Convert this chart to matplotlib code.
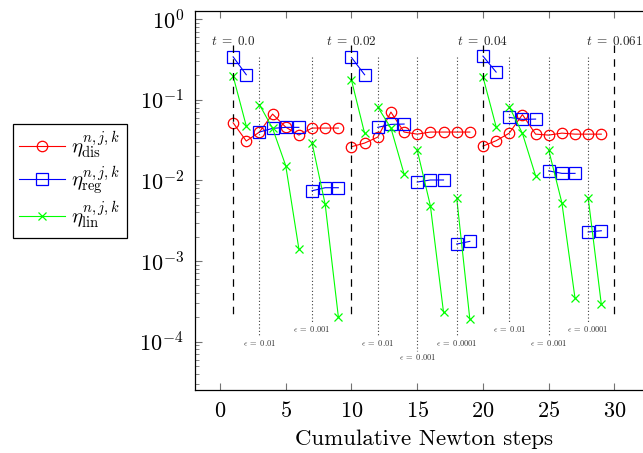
import matplotlib
matplotlib.use('Agg')
import matplotlib.pyplot as plt
import numpy as np

plt.rcParams['font.family'] = 'serif'
plt.rcParams['font.serif'] = ['cmr10']
plt.rcParams['mathtext.fontset'] = 'cm'
plt.rcParams['axes.formatter.use_mathtext'] = True

##########################################################################
# data
steps = list(range(1, 30))

eta_dis = [0.0517, 0.0307, 0.0397, 0.0663, 0.0457, 0.0364, 0.0445, 0.0445, 0.0445,
           0.0261, 0.0290, 0.0344, 0.0702, 0.0397, 0.0374, 0.0397, 0.0397, 0.0397, 0.0397,
           0.0266, 0.0310, 0.0385, 0.0654, 0.0374, 0.0364, 0.0385, 0.0374, 0.0374, 0.0374]

eta_reg = [0.340, 0.204, 0.0397, 0.0441, 0.0454, 0.0454, 0.00743, 0.0081, 0.0081,
           0.334, 0.204, 0.0454, 0.0494, 0.0499, 0.00953, 0.0101, 0.0101, 0.00162, 0.00175,
           0.347, 0.220, 0.0604, 0.0570, 0.0575, 0.0131, 0.0122, 0.0122, 0.00229, 0.00237]

eta_lin = [0.196, 0.0471, 0.0869, 0.0441, 0.0152, 0.00141, 0.0292, 0.00504, 0.000204,
           0.175, 0.0382, 0.0810, 0.0445, 0.0120, 0.0237, 0.00484, 0.000231, 0.00609, 0.00019,
           0.192, 0.0462, 0.0817, 0.0382, 0.0114, 0.0237, 0.00527, 0.000345, 0.00609, 0.00029]

# new time step / new epsilon start at these cumulative steps
time_steps = [1, 10, 20, 30]
time_labels = ['0.0', '0.02', '0.04', '0.061']
eps_steps = [3, 7, 12, 15, 18, 22, 25, 28]
eps_labels = ['0.01', '0.001', '0.01', '0.001', '0.0001', '0.01', '0.001', '0.0001']

# label stagger (0 = upper, 1 = middle, 2 = lower)
eps_row = [1, 0, 1, 2, 1, 0, 1, 0]


def split_runs(x, y, starts):
    # break the series into runs that begin at the given steps
    runs = []
    cur_x, cur_y = [], []
    for xi, yi in zip(x, y):
        if xi in starts and cur_x:
            runs.append((cur_x, cur_y))
            cur_x, cur_y = [], []
        cur_x.append(xi)
        cur_y.append(yi)
    runs.append((cur_x, cur_y))
    return runs


##########################################################################
# graph setup
fig = plt.figure(figsize=(6.43, 4.53), dpi=100)
ax = fig.add_axes([195 / 643, 1 - 390 / 453, 457.6 / 643, 379 / 453])
ax.set_yscale('log')
ax.set_xlim(-1.9, 32.9)
ax.set_ylim(10 ** -4.6, 10 ** 0.1)

##########################################################################
# graph plotting
run_starts = set(time_steps) | set(eps_steps)

styles = [
    (eta_dis, set(time_steps), dict(color='#ff0000', marker='o', ms=7.5), r'$\eta_{\mathrm{dis}}^{n,j,k}$'),
    (eta_reg, run_starts, dict(color='#0000ff', marker='s', ms=8), r'$\eta_{\mathrm{reg}}^{n,j,k}$'),
    (eta_lin, run_starts, dict(color='#00ff00', marker='x', ms=5.5), r'$\eta_{\mathrm{lin}}^{n,j,k}$'),
]
handles = []
for vals, starts, kw, lab in styles:
    for i, (xs, ys) in enumerate(split_runs(steps, vals, starts)):
        h, = ax.plot(xs, ys, lw=0.8, mfc='none', mew=0.9, label=lab if i == 0 else None, **kw)
        if i == 0:
            handles.append(h)

# time step markers
for s, lab in zip(time_steps, time_labels):
    ax.plot([s, s], [0.475, 1.97e-4], color='k', ls=(0, (6, 5)), lw=0.9)
    ax.text(s, 0.52, r'$t\;=\;%s$' % lab, ha='center', va='center', fontsize=9.5, color='0.15')

# epsilon markers
eps_label_y = [10 ** -3.843, 10 ** -4.016, 10 ** -4.19]
for s, lab, row in zip(eps_steps, eps_labels, eps_row):
    ax.plot([s, s], [0.337, eps_label_y[row] * 10 ** 0.07], color='0.25', ls=(0, (1, 2)), lw=0.8)
    ax.text(s, eps_label_y[row], r'$\epsilon\;=\;%s$' % lab, ha='center', va='center', fontsize=6, color='0.2')

ax.set_xticks([0, 5, 10, 15, 20, 25, 30])
ax.set_xlabel('Cumulative Newton steps', fontsize=16.5, labelpad=6)
ax.tick_params(which='both', direction='in', top=True, right=True, color='0.45')
ax.tick_params(which='major', length=5, labelsize=16)
ax.tick_params(axis='x', which='major', pad=8)
ax.tick_params(axis='y', which='major', pad=8)
ax.tick_params(which='minor', length=3)
ax.xaxis.set_minor_locator(matplotlib.ticker.NullLocator())
for sp in ax.spines.values():
    sp.set_linewidth(0.9)

leg = fig.legend(handles=handles, loc='upper left', bbox_to_anchor=(13 / 643, 1 - 124 / 453),
                 fontsize=15, fancybox=False, edgecolor='k', framealpha=1,
                 handlelength=2.2, borderpad=0.3, labelspacing=0.15, handletextpad=0.3,
                 borderaxespad=0)
leg.get_frame().set_linewidth(0.9)

##########################################################################
# output
plt.savefig('out.png', dpi=100)
